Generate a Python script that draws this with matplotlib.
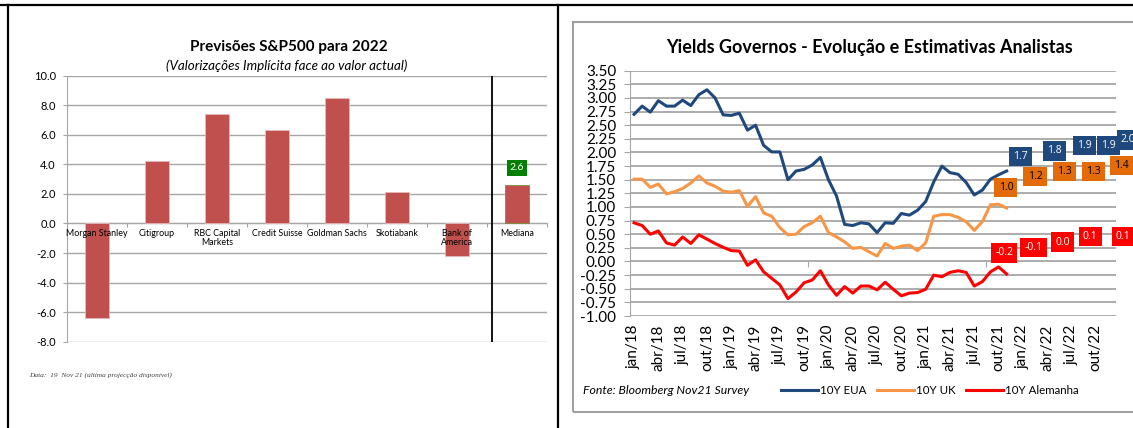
import matplotlib
matplotlib.use('Agg')
import matplotlib.pyplot as plt
from matplotlib.lines import Line2D
from matplotlib.patches import Rectangle

plt.rcParams['font.family'] = ['Lato', 'DejaVu Sans']

# ── left panel: S&P500 2022 forecasts (implied upside, %) ────────────────────
BANKS = ['Morgan Stanley', 'Citigroup', 'RBC Capital\nMarkets', 'Credit Suisse',
         'Goldman Sachs', 'Skotiabank', 'Bank of\nAmerica', 'Mediana']
UPSIDE = [-6.4, 4.2, 7.4, 6.35, 8.5, 2.1, -2.2, 2.6]

# ── right panel: 10Y government yields, monthly jan/18 .. nov/21 ─────────────
US_10Y = [2.70, 2.85, 2.74, 2.95, 2.85, 2.85, 2.96, 2.86, 3.06, 3.15,
          3.00, 2.69, 2.68, 2.72, 2.41, 2.50, 2.13, 2.01, 2.01, 1.50,
          1.66, 1.69, 1.77, 1.91, 1.50, 1.20, 0.68, 0.66, 0.71, 0.69,
          0.53, 0.71, 0.70, 0.88, 0.85, 0.94, 1.10, 1.46, 1.75, 1.63,
          1.60, 1.45, 1.22, 1.31, 1.51, 1.59, 1.66]
UK_10Y = [1.51, 1.51, 1.36, 1.42, 1.24, 1.28, 1.34, 1.44, 1.57, 1.44,
          1.38, 1.29, 1.27, 1.30, 1.01, 1.19, 0.89, 0.83, 0.62, 0.49,
          0.50, 0.64, 0.71, 0.83, 0.53, 0.45, 0.36, 0.24, 0.26, 0.18,
          0.10, 0.33, 0.24, 0.28, 0.30, 0.20, 0.34, 0.83, 0.86, 0.86,
          0.81, 0.73, 0.57, 0.73, 1.04, 1.05, 0.98]
DE_10Y = [0.71, 0.66, 0.50, 0.56, 0.34, 0.30, 0.45, 0.33, 0.49, 0.41,
          0.33, 0.26, 0.20, 0.19, -0.07, 0.03, -0.19, -0.31, -0.43, -0.68,
          -0.56, -0.39, -0.34, -0.17, -0.43, -0.62, -0.46, -0.58, -0.45, -0.45,
          -0.52, -0.38, -0.51, -0.63, -0.58, -0.57, -0.51, -0.25, -0.28, -0.20,
          -0.17, -0.20, -0.45, -0.37, -0.19, -0.10, -0.23]

# analyst survey forecasts (label value, month index where the label sits)
US_FC = [1.7, 1.8, 1.9, 1.9, 2.0]
US_FC_X = [47.7, 51.9, 55.6, 58.6, 61.0]
UK_FC = [1.0, 1.2, 1.3, 1.3, 1.4]
UK_FC_X = [45.9, 49.5, 53.1, 56.7, 60.2]
DE_FC = [-0.2, -0.1, 0.0, 0.1, 0.1]
DE_FC_X = [45.7, 49.3, 52.9, 56.3, 60.4]

MONTH_LABELS = [f'{m}/{y}' for y in range(18, 23) for m in ('jan', 'abr', 'jul', 'out')]

C_BAR = '#C0504D'
C_US, C_UK, C_DE = '#1F497D', '#F79646', '#FF0000'
C_GRID = '#A6A6A6'

fig = plt.figure(figsize=(11.33, 4.28), dpi=100)
W, H = 1133, 428


def fx(px):
    return px / W


def fy(py):
    return 1 - py / H


# page frame
fig.add_artist(Line2D([0, 1], [fy(5), fy(5)], color='black', lw=1.6))
fig.add_artist(Line2D([fx(8), fx(8)], [0, fy(5)], color='black', lw=1.6))
fig.add_artist(Line2D([fx(558), fx(558)], [0, fy(5)], color='black', lw=1.6))
fig.add_artist(Rectangle((fx(573), fy(412)), 1.0, fy(22) - fy(412),
                         fill=False, edgecolor='#A0A0A0', lw=1.5))

# ── left chart ───────────────────────────────────────────────────────────────
ax1 = fig.add_axes([fx(67), fy(341.7), fx(547) - fx(67), fy(75.6) - fy(341.7)])
xs = list(range(len(BANKS)))
bars = ax1.bar(xs, UPSIDE, width=0.4, color=C_BAR, edgecolor='#E6B9B8', lw=0.6,
               zorder=3)
bars[-1].set_edgecolor('#77933C')
ax1.set_xlim(-0.5, len(BANKS) - 0.5)
ax1.set_ylim(-8, 10)
ax1.set_yticks(range(-8, 11, 2))
ax1.set_yticklabels([f'{v:.1f}' for v in range(-8, 11, 2)], fontsize=8)
ax1.yaxis.grid(True, color=C_GRID, lw=1)
ax1.set_axisbelow(True)
for s in ('top', 'right'):
    ax1.spines[s].set_visible(False)
ax1.spines['left'].set_color(C_GRID)
ax1.spines['bottom'].set_position(('data', 0))
ax1.spines['bottom'].set_color(C_GRID)
ax1.set_xticks([x + 0.5 for x in xs])
ax1.set_xticklabels([])
ax1.tick_params(axis='x', direction='out', length=3, color=C_GRID)
ax1.tick_params(axis='y', length=3, color=C_GRID, pad=5)
for x, name in zip(xs, BANKS):
    ax1.text(x, -0.35, name, ha='center', va='top', fontsize=6.4,
             linespacing=1.1, zorder=4)
ax1.axvline(6.58, color='black', lw=1.3, zorder=4)
ax1.annotate(f'{UPSIDE[-1]:.1f}', (xs[-1], UPSIDE[-1]), xytext=(0, 9),
             textcoords='offset points', ha='center', va='bottom',
             fontsize=7.5, color='white',
             bbox=dict(boxstyle='square,pad=0.3', facecolor='#008000',
                       edgecolor='none'))
fig.text(fx(289), fy(47), 'Previsões S&P500 para 2022', ha='center', va='center',
         fontsize=11, fontweight='bold')
fig.text(fx(287), fy(66), '(Valorizações Implícita face ao valor actual)',
         ha='center', va='center', fontsize=9.6, style='italic')
fig.text(fx(29), fy(375), 'Data:  19  Nov 21 (última projecção disponível)',
         ha='left', va='center', fontsize=5.3, style='italic',
         family='Liberation Serif', color='#404040')

# ── right chart ──────────────────────────────────────────────────────────────
ax2 = fig.add_axes([fx(630), fy(316), fx(1116) - fx(630), fy(70.7) - fy(316)])
months = list(range(len(US_10Y)))
l_us, = ax2.plot(months, US_10Y, color=C_US, lw=2.2, label='10Y EUA',
                 solid_joinstyle='round', zorder=3)
l_uk, = ax2.plot(months, UK_10Y, color=C_UK, lw=2.2, label='10Y UK',
                 solid_joinstyle='round', zorder=3)
l_de, = ax2.plot(months, DE_10Y, color=C_DE, lw=2.2, label='10Y Alemanha',
                 solid_joinstyle='round', zorder=3)
ax2.set_xlim(-0.5, 59.5)
ax2.set_ylim(-1.0, 3.5)
yt = [v / 4 for v in range(-4, 15)]
ax2.set_yticks(yt)
ax2.set_yticklabels([f'{v:.2f}' for v in yt], fontsize=11)
ax2.yaxis.grid(True, color=C_GRID, lw=1.3)
ax2.set_axisbelow(True)
for s in ('top', 'right', 'bottom'):
    ax2.spines[s].set_visible(False)
ax2.spines['left'].set_color(C_GRID)
ax2.set_xticks(range(0, 60, 3))
ax2.set_xticklabels(MONTH_LABELS, rotation=90, fontsize=11)
ax2.tick_params(axis='x', length=0, pad=6)
ax2.tick_params(axis='y', length=4, color=C_GRID, pad=6)

# small category ticks on the zero line
sec = ax2.secondary_xaxis(1 / 4.5)
sec.set_xticks([21.5, 43.5])
sec.set_xticklabels([])
sec.tick_params(direction='out', length=4, color=C_GRID)
sec.spines['bottom'].set_visible(False)

box_specs = [
    (US_FC_X, US_FC, C_US, 'white', 9),
    (UK_FC_X, UK_FC, '#E36C09', 'black', 14),
    (DE_FC_X, DE_FC, C_DE, 'white', 14),
]
for fxs, vals, fc, tc, lift in box_specs:
    for x, v in zip(fxs, vals):
        ax2.annotate(f'{v:.1f}', (x, v), xytext=(0, lift),
                     textcoords='offset points', ha='center', va='center',
                     fontsize=7.5, color=tc, annotation_clip=False, zorder=5,
                     family=['Open Sans', 'DejaVu Sans'],
                     bbox=dict(boxstyle='square,pad=0.4', facecolor=fc,
                               edgecolor='none'))

fig.text(fx(870), fy(48), 'Yields Governos - Evolução e Estimativas Analistas',
         ha='center', va='center', fontsize=13, fontweight='bold')
fig.text(fx(583), fy(391), 'Fonte: Bloomberg Nov21 Survey', ha='left',
         va='center', fontsize=8.8, style='italic')
fig.legend(handles=[l_us, l_uk, l_de], loc='center left',
           bbox_to_anchor=(fx(781), fy(391)), ncol=3, frameon=False,
           fontsize=8.3, handlelength=3.2, handletextpad=0.2, columnspacing=0.9,
           borderaxespad=0, borderpad=0)

fig.savefig('out.png', dpi=100, facecolor='white')
